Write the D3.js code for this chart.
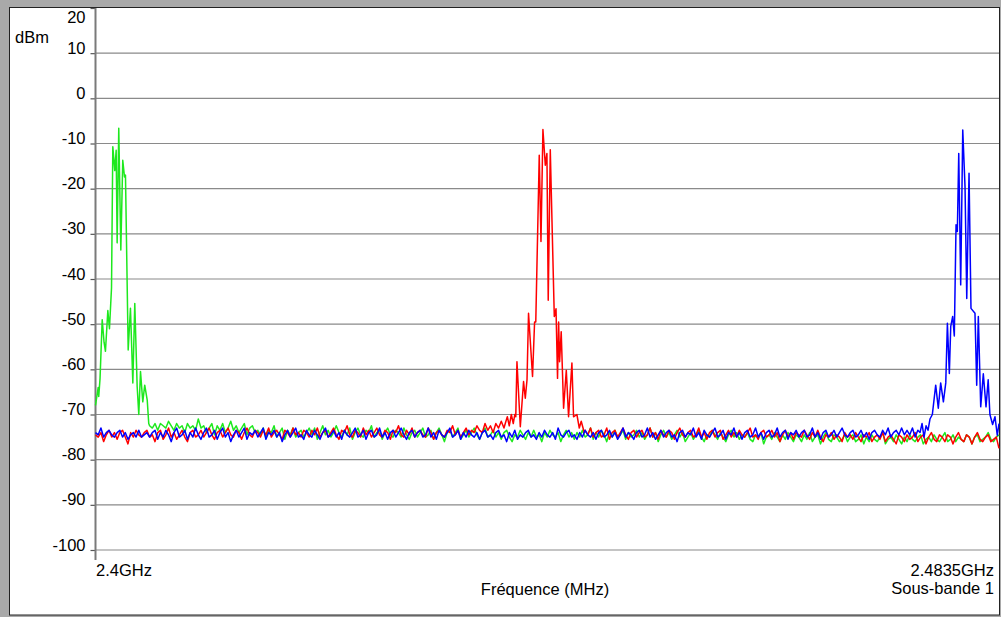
<!DOCTYPE html>
<html>
<head>
<meta charset="utf-8">
<script src="https://cdn.jsdelivr.net/npm/d3@7"></script>
<style>
  html, body { margin: 0; padding: 0; background: #a9a9a9; }
  svg { display: block; }
  text { font-family: "Liberation Sans", Arial, sans-serif; font-size: 16.5px; fill: #000; }
</style>
</head>
<body>
<script>
// Sweep settings (MHz)
const freqStart = 2400;
const freqEnd = 2483.5;
const freqStep = 0.25;

// Y axis ticks (dBm)
const yTicks = [20, 10, 0, -10, -20, -30, -40, -50, -60, -70, -80, -90, -100];

// Text labels
const unitLabel = "dBm";
const startLabel = "2.4GHz";
const endLabel = "2.4835GHz";
const axisTitle = "Fréquence (MHz)";
const bandLabel = "Sous-bande 1";

// Noise floor per trace on the 0.25 MHz grid (null where the carrier list takes over)
const greenFloor = [
  null,null,null,null,null,null,null,null,null,null,null,null,null,null,null,null,null,null,null,null,
  -72.5,-73,-72,-73.5,-72,-72.5,-73,-71.5,-72.5,-73.5,-72,-73,-72.5,-74,-72,-73,-72.5,-73.5,-71,-73,
  -72.5,-74,-73,-72,-74.5,-72.5,-73.5,-72,-74,-73,-71.5,-73.5,-72.5,-74,-73,-72,-74.5,-73,-72.5,-74,
  -73.5,-74.5,-73,-75,-73.5,-74,-72.5,-75,-74,-73,-75.5,-73.5,-74.5,-73,-75,-74,-73.5,-75,-74,-73,
  -74.5,-73,-75.5,-74,-72.5,-74.5,-73.5,-75,-74,-72.5,-74,-75,-73.5,-74.5,-73,-75.5,-74,-73,-74.5,-75,
  -73.5,-74,-72.5,-75,-74,-73.5,-75.5,-74,-73,-74.5,-75,-73.5,-74,-75,-73,-74.5,-75.5,-74,-73.5,-75,
  -74,-73,-75,-74.5,-73.5,-75.5,-74,-73,-74.5,-76,-74,-73.5,-75,-74,-73,-75.5,-74.5,-73.5,-75,-74,
  -73,-74.5,-75.5,-74,-73,-75,-74.5,-73.5,-75,-74,-75.5,-74,-73.5,-75,-76,-74.5,-75,-73.5,-74.5,-75.5,
  -74,-75,-73.5,-75,-74.5,-76,-74,-75,-73.5,-74.5,-75,-74,-76,-74.5,-73.5,-75,-74,-75.5,-74,-75,
  -73.5,-75,-74.5,-73,-75.5,-74,-75,-73.5,-74.5,-76,-74,-75,-73.5,-75,-74.5,-73.5,-75.5,-74,-75,-74.5,
  -73.5,-75,-74,-75.5,-74.5,-73,-75,-74,-76,-74.5,-73.5,-75,-74,-75.5,-74.5,-73.5,-75,-74,-76,-75,
  -74,-75.5,-74.5,-73.5,-75,-76,-74.5,-75,-73.5,-74.5,-75.5,-74,-75,-76,-74.5,-73.5,-75,-74,-75.5,-74.5,
  -75,-74,-75.5,-76,-74.5,-75,-74,-76.5,-75,-74.5,-75.5,-74,-75,-76,-74.5,-75.5,-74,-75,-76,-74.5,
  -75,-76,-74.5,-75.5,-74,-76,-75,-74.5,-76.5,-75,-74,-75.5,-76,-74.5,-75,-76,-75.5,-74.5,-76,-75,
  -74.5,-76,-75.5,-74.5,-76.5,-75,-76,-74.5,-75.5,-76,-75,-74,-76.5,-75.5,-75,-76,-74.5,-75.5,-76.5,-75,
  -76,-74.5,-75.5,-76,-75,-74.5,-76.5,-75.5,-75,-76,-74.5,-75.5,-76,-75,-74,-76,-75.5,-74.5,-76,-75,
  -75.5,-76,-74.5,-75,-76.5,-75,-74.5,-76,-75.5,-75,-74,-75.5,-76,-75,-74.5
];

const redFloor = [
  -74.5,-75,-74,-76,-74.5,-73.5,-75,-74,-75.5,-74,-73.5,-75,-76.5,-74,-75,-73.5,-74.5,-75,-74,-73.5,
  -75,-74.5,-76,-74,-73.5,-75.5,-74.5,-73,-75,-74,-75.5,-74.5,-73.5,-75,-76,-74,-73.5,-75,-74.5,-73.5,
  -75,-74,-73,-74.5,-75.5,-74,-73.5,-75,-74,-73,-74.5,-75,-73.5,-74,-75.5,-74,-73,-74.5,-75,-73.5,
  -74,-75,-73.5,-74.5,-73,-75,-74,-73.5,-74.5,-75.5,-73.5,-74,-75,-73,-74.5,-74,-75,-73.5,-74,-75,
  -73.5,-74.5,-73,-75,-74,-73.5,-75,-74,-73,-74.5,-75.5,-73.5,-74,-72.5,-74.5,-75,-73.5,-74,-75,-73,
  -74.5,-73.5,-75,-74,-73,-74.5,-75,-73.5,-74,-75.5,-73.5,-74,-72.5,-74.5,-75,-73.5,-74.5,-73,-75,-74,
  -73.5,-74.5,-75,-73,-74,-75.5,-74,-73.5,-74.5,-75,-73.5,-74,-72.5,-74.5,-73.5,-75,-74,-73,-74.5,-73.5,
  -74,-72.5,-73.5,-74,-72,-73.5,-72.5,-74,-72,-73,-71.5,-73,null,null,null,null,null,null,null,null,
  null,null,null,null,null,null,null,null,null,null,null,null,null,null,null,null,null,null,null,null,
  null,-73.5,-74.5,-73,-75,-74,-73.5,-75,-74.5,-73,-75.5,-74,-73.5,-75,-74,-73,-74.5,-75.5,-74,-73.5,
  -75,-74,-73.5,-75,-74.5,-73,-75,-74,-75.5,-73.5,-74.5,-75,-73.5,-74,-75.5,-74,-73,-74.5,-75,-74,
  -73.5,-75,-74.5,-73,-75,-74,-75.5,-74,-73.5,-75,-74,-73.5,-75.5,-74.5,-73.5,-75,-74,-75,-73.5,-74.5,
  -75,-74,-73,-75,-74.5,-75.5,-74,-73.5,-75,-74.5,-73.5,-75,-74,-76,-74.5,-73.5,-75,-74,-75.5,-74,
  -74.5,-75,-73.5,-74.5,-75.5,-74,-75,-73.5,-75,-76,-74.5,-75,-74,-75.5,-74.5,-75,-76,-74,-75,-74.5,
  -75.5,-74,-75,-76,-74.5,-75,-74,-76,-75,-74.5,-75.5,-74,-76,-75,-74.5,-75.5,-76.5,-74.5,-75,-76,
  -74.5,-75.5,-75,-74,-76,-75,-74.5,-76.5,-75,-74,-75.5,-76,-74.5,-75,-76,-74.5,-75,-76.5,-75,-74,
  -75.5,-76,-74.5,-75,-76.5,-75,-74,-75.5,-76,-75,-74.5,-76,-75.5,-75,-77.5
];

const blueFloor = [
  -74,-74.5,-73,-75,-74,-73.5,-74.5,-75,-74,-73.5,-75,-74,-75.5,-74.5,-74,-75,-73.5,-75,-74.5,-74,
  -75,-74,-73.5,-75.5,-74,-75,-73.5,-74.5,-76,-74,-73,-75,-74.5,-73.5,-75.5,-74,-75,-73,-74.5,-75.5,
  -74,-73,-75,-74.5,-73.5,-75.5,-74,-73,-75,-74,-76,-74.5,-73.5,-75,-74,-73,-75.5,-74,-74.5,-73.5,
  -75,-74,-73,-75.5,-74,-74.5,-73.5,-75,-74,-76,-74.5,-73.5,-75,-74,-73,-75,-74.5,-75.5,-73.5,-74.5,
  -75,-73.5,-74.5,-75.5,-74,-73,-75,-74.5,-73.5,-75,-74,-75.5,-73.5,-74.5,-75,-74,-73,-75,-74.5,-73.5,
  -75.5,-74,-73.5,-75,-74.5,-73,-75,-74,-75.5,-74,-73.5,-75,-74,-73,-74.5,-75.5,-74,-73.5,-75,-74,
  -73.5,-75,-74.5,-73,-75,-74,-75.5,-73.5,-74.5,-75,-74,-73,-75,-74.5,-73.5,-75.5,-74,-75,-73.5,-74.5,
  -75,-74,-75.5,-74,-73.5,-75,-74.5,-75.5,-74,-73.5,-75,-74.5,-76,-74,-75,-73.5,-75.5,-74.5,-75,-74,
  -73.5,-75,-74.5,-75.5,-74,-75,-73.5,-74.5,-75,-74,-75.5,-73,-74.5,-75,-74,-73.5,-75,-74.5,-75.5,-74,
  -75,-73.5,-74.5,-75,-74,-75.5,-74,-73.5,-75,-74.5,-73.5,-75,-74,-75.5,-74.5,-73,-75,-74,-74.5,-75.5,
  -74,-73.5,-75,-74.5,-73,-75,-74,-75.5,-74.5,-73.5,-75,-74,-73.5,-75,-74.5,-76,-74,-73.5,-75,-74,
  -74.5,-73,-75,-74,-75.5,-73.5,-74.5,-75,-74,-73,-75,-74.5,-73.5,-75.5,-74,-74.5,-73,-75,-74,-75.5,
  -74,-73.5,-75,-74.5,-73,-75,-74,-75.5,-74,-73.5,-75,-74.5,-73,-75,-74,-73.5,-75.5,-74,-74.5,-73.5,
  -75,-74,-73.5,-75,-74.5,-73,-75,-74,-75.5,-74,-73.5,-75,-74.5,-73.5,-75,-74,-73,-74.5,-75,-74,
  -73.5,-75,-74.5,-73.5,-75,-74,-75.5,-74,-73.5,-74.5,-75,-73.5,-74.5,-73,-75,-74,-73.5,-74.5,-73,-74.5,
  -73.5,-74.5,-73,-75,-73.5,null,null,null,null,null,null,null,null,null,null,null,null,null,null,null,
  null,null,null,null,null,null,null,null,null,null,null,null,null,null,null
];

// Carrier spectra: frequency (MHz) and level (dBm)
const greenPeakMHz = [2400.00,2400.25,2400.30,2400.42,2400.62,2400.79,2400.92,2401.14,2401.29,2401.48,
  2401.60,2401.78,2401.91,2402.00,2402.15,2402.34,2402.52,2402.68,2402.77,2403.02,2403.23,2403.45,
  2403.63,2403.85,2404.00,2404.16,2404.37,2404.55,2404.78,2404.92];
const greenPeakDbm = [-68,-64,-66,-62,-49,-54,-56,-47,-51,-42,
  -10.7,-16,-11.5,-32,-6.6,-33.6,-13.7,-17.4,-17,-55.7,-46.5,-63,
  -45.4,-63.8,-70,-60.5,-67.2,-63.5,-66.8,-72];

const redPeakMHz = [2437.87,2438.06,2438.24,2438.43,2438.61,2438.75,2438.84,2438.95,2439.26,2439.56,
  2439.72,2439.88,2440.02,2440.39,2440.58,2440.69,2441.01,2441.17,2441.35,2441.57,2441.72,2441.84,
  2442.03,2442.40,2442.56,2442.70,2442.80,2442.89,2443.04,2443.26,2443.51,2443.72,2444.03,2444.18,
  2444.49,2444.71,2444.89,2445.17];
const redPeakDbm = [-72,-70.5,-72.5,-70,-72,-70,-70.5,-58.3,-72.7,-62.7,
  -66.4,-62.3,-47.6,-61.6,-49.5,-49.5,-12.6,-31.7,-6.9,-14.8,-12.2,-44.7,
  -11.4,-48.3,-46.6,-62,-49.5,-58.3,-51.7,-68.6,-60.2,-70.5,-58.6,-70.5,
  -70,-73,-71.5,-74];

const bluePeakMHz = [2476.20,2476.39,2476.57,2476.76,2476.94,2477.12,2477.34,2477.65,2477.89,2478.11,
  2478.36,2478.58,2478.73,2478.91,2479.04,2479.22,2479.37,2479.53,2479.65,2479.78,2479.96,2480.15,
  2480.36,2480.52,2480.73,2480.91,2481.28,2481.44,2481.59,2481.81,2482.05,2482.30,2482.50,2482.66,
  2482.91,2483.13,2483.34,2483.50];
const bluePeakDbm = [-74,-72,-75,-72.5,-73.5,-71,-70,-63.5,-68.6,-63,
  -67.2,-63,-49.8,-60.9,-50.5,-48.3,-52.6,-28,-29.5,-12.2,-41.3,-7,
  -19.6,-44.3,-16.6,-46.5,-47.6,-63.5,-48.3,-68.3,-61,-68.3,-62.3,-70,
  -72.2,-70.5,-74.6,-72];

const W = 1001, H = 617;
const svg = d3.select("body").append("svg").attr("width", W).attr("height", H);

// White chart panel with dark frame
svg.append("rect")
  .attr("x", 9.5).attr("y", 7.5).attr("width", 990).attr("height", 607.5)
  .attr("fill", "#fff").attr("stroke", "#222").attr("stroke-width", 1);

const plot = { left: 95.5, right: 999, top: 8, bottom: 550 };

const x = d3.scaleLinear().domain([freqStart, freqEnd]).range([plot.left, plot.right]);
const y = d3.scaleLinear().domain([-100, 20]).range([plot.bottom, plot.top]);

// Horizontal grid lines
svg.append("g")
  .selectAll("line")
  .data(yTicks.filter(v => v < 20))
  .join("line")
  .attr("x1", plot.left).attr("x2", plot.right)
  .attr("y1", d => y(d)).attr("y2", d => y(d))
  .attr("stroke", "#8a8a8a").attr("stroke-width", 1.2);

// Left axis: ticks and labels
const yAxis = d3.axisLeft(y).tickValues(yTicks).tickSize(5).tickFormat(d => String(d));
const gy = svg.append("g").attr("transform", `translate(${plot.left},0)`).call(yAxis);
gy.select(".domain").remove();
gy.selectAll(".tick line").attr("stroke", "#555").attr("stroke-width", 1.2);
gy.selectAll(".tick text")
  .attr("x", -10)
  .attr("dy", d => d === 20 ? "14.7" : "0")
  .attr("font-family", "Liberation Sans, Arial, sans-serif")
  .attr("font-size", "16.5px")
  .attr("fill", "#000");

// Vertical axis line running down to the bottom tick
svg.append("line")
  .attr("x1", plot.left).attr("x2", plot.left)
  .attr("y1", plot.top).attr("y2", plot.bottom + 10)
  .attr("stroke", "#7a7a7a").attr("stroke-width", 2);

// Traces
function buildTrace(floor, peakMHz, peakDbm) {
  const pts = [];
  floor.forEach((v, i) => { if (v !== null) pts.push({ f: freqStart + i * freqStep, v }); });
  peakMHz.forEach((f, i) => pts.push({ f, v: peakDbm[i] }));
  return pts.sort((a, b) => a.f - b.f);
}

const traces = [
  { color: "#1ee81e", pts: buildTrace(greenFloor, greenPeakMHz, greenPeakDbm) },
  { color: "#ff0000", pts: buildTrace(redFloor, redPeakMHz, redPeakDbm) },
  { color: "#0000ff", pts: buildTrace(blueFloor, bluePeakMHz, bluePeakDbm) }
];

const line = d3.line().x(d => x(d.f)).y(d => y(d.v));
svg.append("g")
  .selectAll("path")
  .data(traces)
  .join("path")
  .attr("d", d => line(d.pts))
  .attr("fill", "none")
  .attr("stroke", d => d.color)
  .attr("stroke-width", 1.5)
  .attr("stroke-linejoin", "round");

// Text labels
svg.append("text").attr("x", 15).attr("y", 42.7).text(unitLabel);
svg.append("text").attr("x", 96).attr("y", 576).text(startLabel);
svg.append("text").attr("x", 994).attr("y", 575.7).attr("text-anchor", "end").text(endLabel);
svg.append("text").attr("x", 994).attr("y", 594).attr("text-anchor", "end").text(bandLabel);
svg.append("text").attr("x", 545).attr("y", 595).attr("text-anchor", "middle").text(axisTitle);
</script>
</body>
</html>
